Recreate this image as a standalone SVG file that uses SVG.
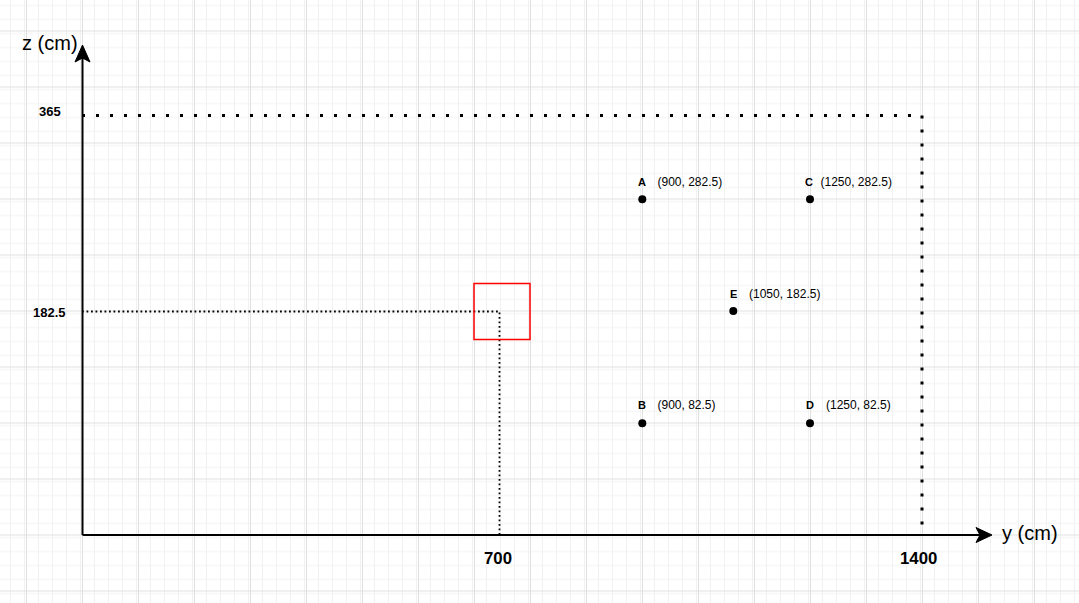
<svg xmlns="http://www.w3.org/2000/svg" width="1079" height="603" viewBox="0 0 1079 603">
  <defs>
    <pattern id="minor" patternUnits="userSpaceOnUse" x="26" y="30.5" width="14" height="14">
      <path d="M0.5,0 V14 M0,0.5 H14" fill="none" stroke="#f1f1f1" stroke-width="1"/>
    </pattern>
    <pattern id="major" patternUnits="userSpaceOnUse" x="26" y="30.5" width="56" height="56">
      <rect width="56" height="56" fill="url(#minor)"/>
      <path d="M0.5,0 V56 M0,0.5 H56" fill="none" stroke="#e0e0e0" stroke-width="1"/>
    </pattern>
    <style>
      .axis { stroke: #000; stroke-width: 2; fill: none; }
      .head { fill: #000; stroke: #000; stroke-width: 1; }
      .bigdot { stroke: #000; stroke-width: 3; fill: none; stroke-dasharray: 3 11; }
      .smalldot { stroke: #000; stroke-width: 1.8; fill: none; stroke-dasharray: 1.8 2.7; }
      .axlabel { font-family: "Liberation Sans", Arial, sans-serif; font-size: 20px; fill: #000; }
      .tick { font-family: "Liberation Sans", Arial, sans-serif; font-size: 13px; font-weight: bold; fill: #000; }
      .tickbig { font-family: "Liberation Sans", Arial, sans-serif; font-size: 16.8px; font-weight: bold; fill: #000; }
      .pname { font-family: "Liberation Sans", Arial, sans-serif; font-size: 11px; font-weight: bold; fill: #000; }
      .pcoord { font-family: "Liberation Sans", Arial, sans-serif; font-size: 12px; fill: #000; }
      .pt { fill: #000; }
    </style>
  </defs>
  <rect width="1079" height="603" fill="#ffffff"/>
  <rect width="1079" height="603" fill="url(#major)"/>

  <g id="connectors">
    <path class="bigdot" d="M82,115.5 H922 V535"/>
    <path class="smalldot" d="M82,311.5 H499.5 V535"/>
    <path class="axis" d="M82.5,535 V55"/>
    <path class="head" d="M82.5,45 L90,62 L82.5,58 L75,62 Z"/>
    <path class="axis" d="M82.5,535 H982"/>
    <path class="head" d="M992,535 L976,542.5 L980,535 L976,527.5 Z"/>
  </g>

  <g id="axis-labels">
    <text class="axlabel" x="22" y="49.5">z (cm)</text>
    <text class="axlabel" x="1002" y="539.5">y (cm)</text>
    <text class="tick" x="39" y="116">365</text>
    <text class="tick" x="33" y="316.5">182.5</text>
    <text class="tickbig" x="484" y="564">700</text>
    <text class="tickbig" x="900" y="564">1400</text>
  </g>

  <g id="red-square">
    <rect x="474" y="283.5" width="56" height="56" fill="none" stroke="#ff0000" stroke-width="1.5"/>
  </g>

  <g id="point-A">
    <circle class="pt" cx="642.3" cy="199.3" r="4"/>
    <text class="pname" x="638" y="185.7">A</text>
    <text class="pcoord" x="657.5" y="185.7">(900, 282.5)</text>
  </g>
  <g id="point-C">
    <circle class="pt" cx="810" cy="199.3" r="4"/>
    <text class="pname" x="805" y="185.7">C</text>
    <text class="pcoord" x="820.5" y="185.7">(1250, 282.5)</text>
  </g>
  <g id="point-E">
    <circle class="pt" cx="733.3" cy="311" r="4"/>
    <text class="pname" x="730" y="297.5">E</text>
    <text class="pcoord" x="749" y="297.5">(1050, 182.5)</text>
  </g>
  <g id="point-B">
    <circle class="pt" cx="642.3" cy="423.3" r="4"/>
    <text class="pname" x="638" y="409">B</text>
    <text class="pcoord" x="657.5" y="409">(900, 82.5)</text>
  </g>
  <g id="point-D">
    <circle class="pt" cx="810" cy="423.3" r="4"/>
    <text class="pname" x="806" y="409">D</text>
    <text class="pcoord" x="826" y="409">(1250, 82.5)</text>
  </g>
</svg>
